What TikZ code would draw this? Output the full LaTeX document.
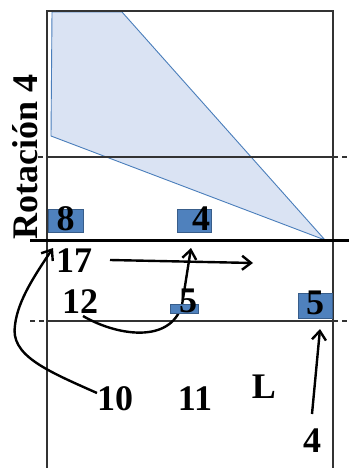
\documentclass[tikz,border=0pt]{standalone}
\usepackage{fontspec}
\setmainfont{Liberation Serif}
\usetikzlibrary{arrows.meta}
\definecolor{zonefill}{HTML}{DAE3F3}
\definecolor{zoneline}{HTML}{4A7EBB}
\definecolor{plfill}{HTML}{4F81BD}
\definecolor{plline}{HTML}{385D8A}
\definecolor{courtc}{HTML}{333333}
\begin{document}
\begin{tikzpicture}[x=1pt,y=-1pt,
  court/.style={draw=courtc,line width=2.5pt},
  ext/.style={draw=courtc,line width=1.8pt,dash pattern=on 5pt off 4pt},
  plbox/.style={fill=plfill,draw=plline,line width=1pt},
  lbl/.style={font=\fontsize{36}{40}\selectfont\bfseries,inner sep=0pt,anchor=base},
  arr/.style={line width=2.4pt,-{Straight Barb[length=9pt,width=14pt,line width=2.4pt]}}]
\useasboundingbox (0,0) rectangle (349,468);
\fill[white] (0,0) rectangle (349,468);
% attack zone
\filldraw[fill=zonefill,draw=zoneline,line width=0.9pt] (52,12) -- (122,12) -- (325,240) -- (51,136) -- cycle;
% court lines
\draw[court] (47,468) -- (47,11) -- (333,11) -- (333,468);
\draw[courtc,line width=1.8pt] (47,157) -- (333,157);
\draw[ext] (38,157) -- (47,157);
\draw[ext] (333,157) -- (349,157);
\draw[courtc,line width=1.8pt] (47,321) -- (333,321);
\draw[ext] (30,321) -- (47,321);
\draw[ext] (333,321) -- (349,321);
% rotation label
\node[lbl,rotate=90] (rot) at (37,157) {Rotación 4};
% player boxes (net row)
\draw[plbox] (48,209) rectangle (83,232);
\draw[plbox] (177,209) rectangle (211,232);
\node[lbl] (p8) at (65.5,230) {8};
\node[lbl] (p4a) at (201,230) {4};
% net
\draw[black,line width=3pt] (30,240) -- (349,240);
% coordinates for connector ends
\coordinate (c17s) at (110,260);
\coordinate (c17e) at (253,263);
\coordinate (c10s) at (97,393);
\coordinate (c10e) at (53,248);
\coordinate (c12s) at (83,316);
\coordinate (c5t) at (191,248);
\coordinate (c4s) at (312,414);
\coordinate (c4e) at (320,329);
% other labels
\node[lbl] (p17) at (74,272) {17};
\node[lbl] (p12) at (80,313) {12};
\node[lbl] (p10) at (115,410) {10};
\node[lbl] (p11) at (195,410) {11};
\node[lbl] (pL) at (264,398) {L};
\node[lbl] (p4b) at (312,452) {4};
% connectors
\draw[arr] (c17s) -- (c17e);
\draw[arr] (c10s) .. controls (45,370) and (10,355) .. (15,325)
                  .. controls (18,300) and (35,275) .. (c10e);
\draw[arr] (c12s) .. controls (115,335) and (170,345) .. (182,305) -- (c5t);
\draw[arr] (c4s) -- (c4e);
% lower boxes
\draw[plbox] (170,304) rectangle (198,313);
\draw[plbox] (298,293) rectangle (332,318);
\node[lbl] (p5a) at (188,312) {5};
\node[lbl] (p5b) at (315,314) {5};
\end{tikzpicture}
\end{document}
